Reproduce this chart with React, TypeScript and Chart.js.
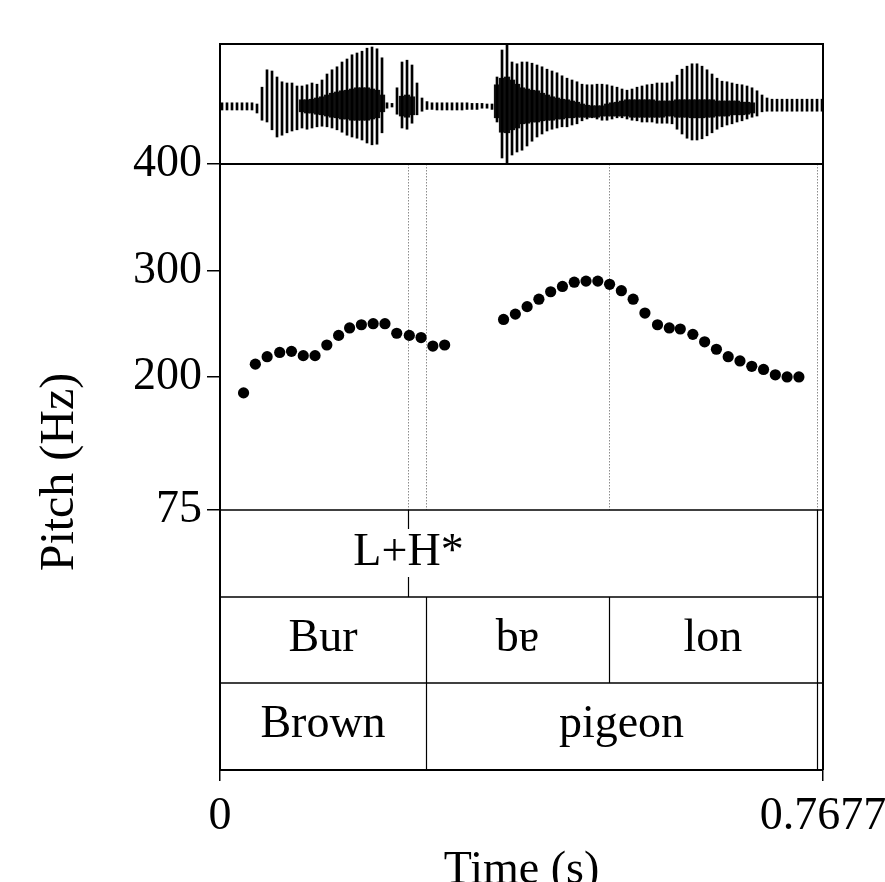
import React, { useEffect, useRef } from "react";
import { Chart, registerables } from "chart.js";

Chart.register(...registerables);

const FONT = "'Liberation Serif', 'Times New Roman', 'DejaVu Serif', serif";

// ---------- data ----------
const timeTickValues = [0, 0.7677];
const timeTickLabels = ["0", "0.7677"];
const pitchTickValues = [75, 200, 300, 400];

const pitchTimesA = [0.030, 0.045, 0.060, 0.076, 0.091, 0.106, 0.121, 0.136, 0.151, 0.165, 0.180, 0.195, 0.210, 0.225, 0.241, 0.256, 0.271, 0.286];
const pitchHzA = [185, 212, 219, 223, 224, 220, 220, 230, 239, 246, 249, 250, 250, 241, 239, 237, 229, 230];

const pitchTimesB = [0.361, 0.376, 0.391, 0.406, 0.421, 0.436, 0.451, 0.466, 0.481, 0.496, 0.511, 0.526, 0.541, 0.557, 0.572, 0.586, 0.602, 0.617, 0.632, 0.647, 0.662, 0.677, 0.692, 0.707, 0.722, 0.737];
const pitchHzB = [254, 259, 266, 273, 280, 285, 289, 290, 290, 287, 281, 273, 260, 249, 246, 245, 240, 233, 226, 219, 215, 210, 207, 202, 200, 200];

// waveform envelope, sampled on a regular time grid
const waveT0 = 0.00255;
const waveDt = 0.006366;
const waveMax = [
  0.02, 0.02, 0.02, 0.02, 0.02, 0.02, 0.02, 0.00, 0.28, 0.57,
  0.55, 0.45, 0.37, 0.35, 0.35, 0.30, 0.30, 0.32, 0.35, 0.33,
  0.40, 0.50, 0.57, 0.62, 0.70, 0.75, 0.82, 0.85, 0.88, 0.93,
  0.95, 0.92, 0.77, 0.02, 0.01, 0.27, 0.70, 0.73, 0.65, 0.35,
  0.10, 0.04, 0.02, 0.02, 0.02, 0.02, 0.02, 0.02, 0.02, 0.02,
  0.01, 0.01, 0.01, 0.00, 0.00, 0.45, 0.90, 0.98, 0.70, 0.67,
  0.70, 0.70, 0.68, 0.65, 0.62, 0.58, 0.55, 0.52, 0.47, 0.43,
  0.40, 0.37, 0.33, 0.32, 0.32, 0.33, 0.33, 0.32, 0.30, 0.28,
  0.25, 0.23, 0.25, 0.28, 0.30, 0.32, 0.33, 0.35, 0.35, 0.35,
  0.37, 0.48, 0.58, 0.63, 0.67, 0.67, 0.63, 0.57, 0.50, 0.43,
  0.38, 0.37, 0.35, 0.33, 0.32, 0.30, 0.27, 0.22, 0.15, 0.10,
  0.08, 0.08, 0.08, 0.08, 0.08, 0.08, 0.08, 0.08, 0.08, 0.08,
  0.08,
];
const waveMin = [
  -0.10, -0.10, -0.10, -0.10, -0.10, -0.10, -0.10, -0.15, -0.27, -0.30,
  -0.43, -0.55, -0.52, -0.48, -0.45, -0.43, -0.40, -0.42, -0.40, -0.38,
  -0.37, -0.38, -0.40, -0.43, -0.47, -0.52, -0.55, -0.57, -0.60, -0.65,
  -0.68, -0.67, -0.48, -0.07, -0.05, -0.17, -0.40, -0.42, -0.32, -0.18,
  -0.12, -0.09, -0.09, -0.10, -0.10, -0.10, -0.10, -0.10, -0.10, -0.09,
  -0.09, -0.09, -0.07, -0.07, -0.09, -0.30, -0.90, -0.98, -0.85, -0.80,
  -0.77, -0.70, -0.62, -0.55, -0.50, -0.45, -0.42, -0.40, -0.38, -0.38,
  -0.35, -0.33, -0.28, -0.25, -0.23, -0.25, -0.27, -0.27, -0.25, -0.23,
  -0.23, -0.25, -0.27, -0.28, -0.30, -0.30, -0.30, -0.32, -0.32, -0.32,
  -0.33, -0.42, -0.50, -0.57, -0.60, -0.60, -0.58, -0.53, -0.48, -0.42,
  -0.38, -0.35, -0.33, -0.30, -0.28, -0.25, -0.22, -0.20, -0.13, -0.12,
  -0.12, -0.12, -0.12, -0.12, -0.12, -0.12, -0.12, -0.12, -0.12, -0.12,
  -0.12,
];
// dense dark core of the waveform (null = no core)
const waveCoreMax = [
  null, null, null, null, null, null, null, null, null, null,
  null, null, null, null, null, null, 0.07, 0.07, 0.08, 0.10,
  0.12, 0.15, 0.18, 0.20, 0.22, 0.23, 0.25, 0.27, 0.27, 0.27,
  0.25, 0.23, 0.15, null, null, null, 0.13, 0.15, 0.12, null,
  null, null, null, null, null, null, null, null, null, null,
  null, null, null, null, null, 0.32, 0.43, 0.45, 0.40, 0.33,
  0.27, 0.25, 0.23, 0.22, 0.18, 0.15, 0.12, 0.10, 0.08, 0.07,
  0.05, 0.03, 0.00, -0.02, -0.03, -0.03, -0.03, 0.00, 0.02, 0.03,
  0.05, 0.07, 0.07, 0.07, 0.07, 0.07, 0.07, 0.05, 0.05, 0.05,
  0.05, 0.07, 0.07, 0.07, 0.07, 0.07, 0.07, 0.07, 0.07, 0.05,
  0.05, 0.05, 0.05, 0.05, 0.03, 0.03, 0.02, null, null, null,
  null, null, null, null, null, null, null, null, null, null,
  null,
];
const waveCoreMin = [
  null, null, null, null, null, null, null, null, null, null,
  null, null, null, null, null, null, -0.13, -0.15, -0.15, -0.17,
  -0.18, -0.20, -0.22, -0.23, -0.25, -0.25, -0.27, -0.27, -0.27, -0.27,
  -0.25, -0.23, -0.13, null, null, null, -0.20, -0.22, -0.18, null,
  null, null, null, null, null, null, null, null, null, null,
  null, null, null, null, null, -0.23, -0.47, -0.48, -0.43, -0.40,
  -0.33, -0.32, -0.30, -0.30, -0.28, -0.27, -0.27, -0.25, -0.25, -0.23,
  -0.23, -0.22, -0.22, -0.22, -0.22, -0.22, -0.20, -0.20, -0.20, -0.20,
  -0.20, -0.20, -0.22, -0.22, -0.22, -0.22, -0.22, -0.22, -0.22, -0.20,
  -0.20, -0.22, -0.22, -0.22, -0.23, -0.23, -0.23, -0.22, -0.22, -0.20,
  -0.20, -0.20, -0.18, -0.18, -0.18, -0.17, -0.15, null, null, null,
  null, null, null, null, null, null, null, null, null, null,
  null,
];

// TextGrid
const toneTimes = [0.2393, 0.76];
const toneLabels = ["L+H*", ""];
const syllableBounds = [0, 0.2623, 0.4952, 0.76, 0.7677];
const syllableLabels = ["Bur", "bɐ", "lon", ""];
const wordBounds = [0, 0.2623, 0.76, 0.7677];
const wordLabels = ["Brown", "pigeon", ""];
const boundaryMarks = [0.2393, 0.2623, 0.4952, 0.76];

// ---------- layout (pixels) ----------
const W = 885;
const H = 882;
const AREA = { left: 220, right: 823, top: 44, bottom: 770 };
const WAVE_BOTTOM = 164;
const PITCH_BOTTOM = 510;
const TIER_Y = [510, 597, 683, 770];
const FONT_SIZE = 45;

function spanFor(vTop: number, vBot: number, pxTop: number, pxBot: number) {
  const perPx = (vTop - vBot) / (pxBot - pxTop);
  return {
    max: vTop + (pxTop - AREA.top) * perPx,
    min: vBot - (AREA.bottom - pxBot) * perPx,
  };
}

const pitchSpan = spanFor(400, 75, WAVE_BOTTOM, PITCH_BOTTOM);
const waveSpan = spanFor(1, -1, AREA.top, WAVE_BOTTOM);

const praatPlugin = {
  id: "praat",
  beforeDatasetsDraw(chart: any) {
    const { ctx } = chart;
    const x = chart.scales.x;
    ctx.save();
    ctx.strokeStyle = "#8c8c8c";
    ctx.lineWidth = 1;
    ctx.setLineDash([1.5, 1.5]);
    for (const t of boundaryMarks) {
      const px = Math.round(x.getPixelForValue(t)) + 0.5;
      ctx.beginPath();
      ctx.moveTo(px, WAVE_BOTTOM);
      ctx.lineTo(px, PITCH_BOTTOM);
      ctx.stroke();
    }
    ctx.restore();
  },
  afterDatasetsDraw(chart: any) {
    const { ctx } = chart;
    const x = chart.scales.x;
    const line = (x1: number, y1: number, x2: number, y2: number) => {
      ctx.beginPath();
      ctx.moveTo(x1, y1);
      ctx.lineTo(x2, y2);
      ctx.stroke();
    };
    ctx.save();
    ctx.strokeStyle = "#000";
    ctx.fillStyle = "#000";
    // frames
    ctx.lineWidth = 2;
    ctx.strokeRect(AREA.left, AREA.top, AREA.right - AREA.left, WAVE_BOTTOM - AREA.top);
    line(AREA.right, AREA.top, AREA.right, AREA.bottom);
    ctx.lineWidth = 1.5;
    for (const y of TIER_Y.slice(0, 3)) line(AREA.left, y, AREA.right, y);

    ctx.font = `${FONT_SIZE + 1}px ${FONT}`;
    ctx.textAlign = "center";
    ctx.textBaseline = "middle";

    // tier 1: point tier
    const t1Top = TIER_Y[0];
    const t1Bot = TIER_Y[1];
    const t1Mid = (t1Top + t1Bot) / 2;
    toneTimes.forEach((t, i) => {
      const px = Math.round(x.getPixelForValue(t)) + 0.5;
      ctx.lineWidth = 1.2;
      if (toneLabels[i]) {
        line(px, t1Top, px, t1Top + 19);
        line(px, t1Bot - 20, px, t1Bot);
        ctx.fillText(toneLabels[i], px, t1Mid - 1);
      } else {
        line(px, t1Top, px, t1Bot);
      }
    });

    // interval tiers
    const drawIntervals = (bounds: number[], labels: string[], top: number, bot: number) => {
      ctx.lineWidth = 1.2;
      for (let i = 1; i < bounds.length - 1; i++) {
        const px = Math.round(x.getPixelForValue(bounds[i])) + 0.5;
        line(px, top, px, bot);
      }
      labels.forEach((lab, i) => {
        if (!lab) return;
        const cx = (x.getPixelForValue(bounds[i]) + x.getPixelForValue(bounds[i + 1])) / 2;
        ctx.fillText(lab, cx, (top + bot) / 2 - 1.5);
      });
    };
    drawIntervals(syllableBounds, syllableLabels, TIER_Y[1], TIER_Y[2]);
    drawIntervals(wordBounds, wordLabels, TIER_Y[2], TIER_Y[3]);

    // y-axis title
    ctx.save();
    ctx.font = `48px ${FONT}`;
    ctx.translate(60, 472);
    ctx.rotate(-Math.PI / 2);
    ctx.fillText("Pitch (Hz)", 0, 0);
    ctx.restore();

    ctx.restore();
  },
};

export default function App() {
  const ref = useRef<HTMLCanvasElement | null>(null);

  useEffect(() => {
    document.body.style.margin = "0";
    const canvas = ref.current;
    if (!canvas) return;

    const waveData = waveMax.map((hi, i) => ({ x: waveT0 + i * waveDt, y: [waveMin[i], hi] }));
    const coreData = waveCoreMax
      .map((hi, i) => (hi === null || waveCoreMin[i] === null ? null : { x: waveT0 + i * waveDt, y: [waveCoreMin[i], hi] }))
      .filter((d) => d !== null);

    const chart = new Chart(canvas, {
      type: "scatter",
      data: {
        datasets: [
          {
            type: "bar",
            label: "waveform",
            data: waveData as any,
            yAxisID: "yw",
            backgroundColor: "#000",
            borderWidth: 0,
            barThickness: 2,
            grouped: false,
          } as any,
          {
            type: "bar",
            label: "waveform core",
            data: coreData as any,
            yAxisID: "yw",
            backgroundColor: "#111",
            borderWidth: 0,
            barThickness: 5.6,
            grouped: false,
          } as any,
          {
            type: "scatter",
            label: "pitch 1",
            data: pitchTimesA.map((t, i) => ({ x: t, y: pitchHzA[i] })),
            yAxisID: "y",
            backgroundColor: "#000",
            borderWidth: 0,
            pointRadius: 5.6,
          },
          {
            type: "scatter",
            label: "pitch 2",
            data: pitchTimesB.map((t, i) => ({ x: t, y: pitchHzB[i] })),
            yAxisID: "y",
            backgroundColor: "#000",
            borderWidth: 0,
            pointRadius: 5.6,
          },
        ],
      },
      options: {
        responsive: false,
        animation: false,
        devicePixelRatio: 1,
        layout: { padding: { left: 0, right: W - AREA.right, top: AREA.top, bottom: 0 } },
        plugins: { legend: { display: false }, tooltip: { enabled: false } },
        scales: {
          x: {
            type: "linear",
            position: "bottom",
            min: timeTickValues[0],
            max: timeTickValues[timeTickValues.length - 1],
            offset: false,
            afterBuildTicks: (s: any) => {
              s.ticks = timeTickValues.map((v) => ({ value: v }));
            },
            afterFit: (s: any) => {
              s.height = H - AREA.bottom;
              s.paddingLeft = 0;
              s.paddingRight = 0;
            },
            ticks: {
              autoSkip: false,
              maxRotation: 0,
              padding: 8,
              color: "#000",
              font: { family: FONT, size: FONT_SIZE + 1 },
              callback: (_v: any, i: number) => timeTickLabels[i],
            },
            grid: { drawOnChartArea: false, drawTicks: true, tickLength: 11, color: "#000", lineWidth: 1.5, offset: false },
            border: { display: true, color: "#000", width: 2 },
            title: {
              display: true,
              text: "Time (s)",
              color: "#000",
              font: { family: FONT, size: FONT_SIZE + 1, lineHeight: 1 },
              padding: { top: 0, bottom: -12 },
            },
          },
          y: {
            type: "linear",
            position: "left",
            min: pitchSpan.min,
            max: pitchSpan.max,
            afterBuildTicks: (s: any) => {
              s.ticks = pitchTickValues.map((v) => ({ value: v }));
            },
            afterFit: (s: any) => {
              s.width = AREA.left;
              s.paddingTop = 0;
              s.paddingBottom = 0;
            },
            ticks: {
              autoSkip: false,
              padding: 5,
              color: "#000",
              font: { family: FONT, size: FONT_SIZE + 1 },
              callback: (v: any) => String(v),
            },
            grid: { drawOnChartArea: false, drawTicks: true, tickLength: 13, color: "#000", lineWidth: 1.5 },
            border: { display: true, color: "#000", width: 2 },
          },
          yw: {
            type: "linear",
            position: "left",
            display: false,
            min: waveSpan.min,
            max: waveSpan.max,
          },
        },
      },
      plugins: [praatPlugin],
    } as any);

    return () => chart.destroy();
  }, []);

  return (
    <div style={{ width: W, height: H, background: "#fff" }}>
      <canvas ref={ref} width={W} height={H} style={{ display: "block" }} />
    </div>
  );
}
